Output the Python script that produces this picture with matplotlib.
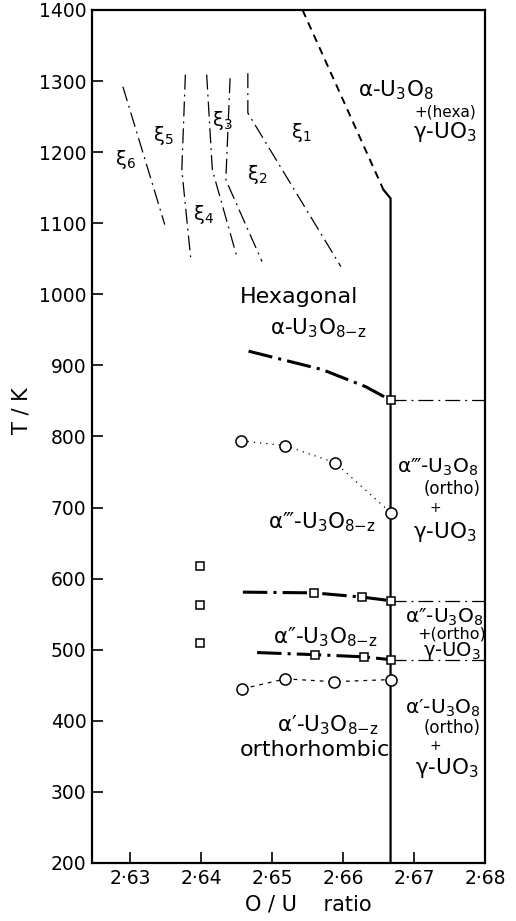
import matplotlib
import numpy as np

from matplotlib import pyplot as plt
from matplotlib.ticker import FuncFormatter

matplotlib.rc("font", family="DejaVu Sans", size=13.5)
plt.rcParams["mathtext.default"] = "regular"

# hexagonal / two-phase boundary
hex_x = [2.6543, 2.6657]
hex_t = [1400, 1147]
stoich_x = [2.6657, 2.6667, 2.6667]
stoich_t = [1147, 1135, 200]

# xi superstructure boundaries
xi_lines = {
    "xi1": ([2.6466, 2.6466, 2.6597], [1311, 1255, 1039]),
    "xi2": ([2.6441, 2.6435, 2.6486], [1304, 1161, 1046]),
    "xi3": ([2.6408, 2.6416, 2.6451], [1309, 1175, 1051]),
    "xi4": ([2.6378, 2.6373, 2.6386], [1309, 1175, 1046]),
    "xi6": ([2.6290, 2.6349], [1292, 1098]),
}

# hexagonal -> alpha''' transition
hexa_x = [2.6467, 2.6571, 2.6632, 2.6667]
hexa_t = [920, 894, 870, 851]

# alpha''' circles
a3_x = [2.6457, 2.6519, 2.6589, 2.6667]
a3_t = [794, 787, 763, 693]

# alpha'' upper transition (squares)
a2u_x = [2.6459, 2.6559, 2.6627, 2.6667]
a2u_t = [581, 580, 574, 569]

# alpha'' lower transition (squares)
a2l_x = [2.6479, 2.6561, 2.6629, 2.6667]
a2l_t = [496, 493, 490, 486]

# alpha' circles
a1_x = [2.6458, 2.6519, 2.6587, 2.6667]
a1_t = [445, 459, 455, 458]

# isolated squares
iso_x = [2.6398, 2.6398, 2.6398]
iso_t = [618, 563, 510]

xticks = [2.63, 2.64, 2.65, 2.66, 2.67, 2.68]
yticks = np.arange(200, 1401, 100)

fig = plt.figure(figsize=(5.16, 9.21), dpi=100)
ax = fig.add_axes([0.1783, 0.0630, 0.7616, 0.9262])

ax.set_xlim(2.62465, 2.68)
ax.set_ylim(200, 1400)
ax.set_xticks(xticks)
ax.set_yticks(yticks)
ax.xaxis.set_major_formatter(FuncFormatter(lambda v, p: f"{v:.2f}".replace(".", "·")))
ax.tick_params(direction="in", length=8, width=1.2, pad=4)
for s in ax.spines.values():
    s.set_linewidth(1.6)

ax.set_xlabel("O / U    ratio", fontsize=15)
ax.xaxis.set_label_coords(0.55, -0.037)
ax.set_ylabel("T / K", fontsize=15)
ax.yaxis.set_label_coords(-0.155, 0.53)

thin_dd = (0, (12, 4, 1.5, 4))
thick_dd = (0, (8, 2, 1, 2))

ax.plot(hex_x, hex_t, color="k", lw=1.4, ls=(0, (4, 3)))
ax.plot(stoich_x, stoich_t, color="k", lw=1.6)

for xs, ts in xi_lines.values():
    ax.plot(xs, ts, color="k", lw=0.9, ls=thin_dd)

ax.plot(hexa_x, hexa_t, color="k", lw=2.2, ls=thick_dd)
ax.plot([hexa_x[-1], 2.68], [hexa_t[-1]] * 2, color="k", lw=0.9, ls=thin_dd)
ax.plot(hexa_x[-1:], hexa_t[-1:], ls="none", marker="s", ms=6, mfc="white", mec="k", mew=1.1, zorder=5)

ax.plot(a3_x, a3_t, color="k", lw=0.9, ls=(0, (1, 4)))
ax.plot(a3_x, a3_t, ls="none", marker="o", ms=8, mfc="white", mec="k", mew=1.1, zorder=5)

ax.plot(a2u_x, a2u_t, color="k", lw=2.2, ls=thick_dd)
ax.plot([a2u_x[-1], 2.68], [a2u_t[-1]] * 2, color="k", lw=0.9, ls=thin_dd)
ax.plot(a2u_x[1:], a2u_t[1:], ls="none", marker="s", ms=6, mfc="white", mec="k", mew=1.1, zorder=5)

ax.plot(a2l_x, a2l_t, color="k", lw=2.2, ls=thick_dd)
ax.plot([a2l_x[-1], 2.68], [a2l_t[-1]] * 2, color="k", lw=0.9, ls=thin_dd)
ax.plot(a2l_x[1:], a2l_t[1:], ls="none", marker="s", ms=6, mfc="white", mec="k", mew=1.1, zorder=5)

ax.plot(a1_x, a1_t, color="k", lw=0.9, ls=(0, (3, 4)))
ax.plot(a1_x, a1_t, ls="none", marker="o", ms=8, mfc="white", mec="k", mew=1.1, zorder=5)

ax.plot(iso_x, iso_t, ls="none", marker="s", ms=6, mfc="white", mec="k", mew=1.1, zorder=5)

# xi labels
for lbl, x, t in [("1", 2.6541, 1227), ("2", 2.6479, 1168), ("3", 2.6430, 1245),
                  ("4", 2.6403, 1112), ("5", 2.6347, 1224), ("6", 2.6293, 1189)]:
    ax.text(x, t, "ξ$_{" + lbl + "}$", fontsize=14, ha="center", va="center")

big = 15.5
side = 14.5
u3o8 = "U$_3$O$_8$"
u3o8z = "U$_3$O$_{8\\mathrm{-z}}$"

# upper right two-phase field
ax.text(2.6621, 1287, "α-" + u3o8, fontsize=big, va="center")
ax.text(2.6701, 1257, "+(hexa)", fontsize=11, va="center")
ax.text(2.6699, 1228, "γ-UO$_3$", fontsize=big, va="center")

ax.text(2.6455, 996, "Hexagonal", fontsize=16, va="center")
ax.text(2.6497, 953, "α-" + u3o8z, fontsize=big, va="center")

ax.text(2.6676, 757, "α‴-" + u3o8, fontsize=side, va="center")
ax.text(2.6713, 726, "(ortho)", fontsize=12, va="center")
ax.text(2.6730, 699, "+", fontsize=10, ha="center", va="center")
ax.text(2.6699, 665, "γ-UO$_3$", fontsize=big, va="center")
ax.text(2.6494, 680, "α‴-" + u3o8z, fontsize=big, va="center")

ax.text(2.6501, 518, "α″-" + u3o8z, fontsize=big, va="center")
ax.text(2.6687, 546, "α″-" + u3o8, fontsize=side, va="center")
ax.text(2.6704, 522, "+(ortho)", fontsize=11.5, va="center")
ax.text(2.6712, 498, "γ-UO$_3$", fontsize=14, va="center")

ax.text(2.6507, 394, "α′-" + u3o8z, fontsize=big, va="center")
ax.text(2.6455, 359, "orthorhombic", fontsize=16, va="center")
ax.text(2.6687, 418, "α′-" + u3o8, fontsize=side, va="center")
ax.text(2.6713, 390, "(ortho)", fontsize=12, va="center")
ax.text(2.6730, 364, "+", fontsize=10, ha="center", va="center")
ax.text(2.6702, 334, "γ-UO$_3$", fontsize=big, va="center")

fig.savefig("out.png", dpi=100)
